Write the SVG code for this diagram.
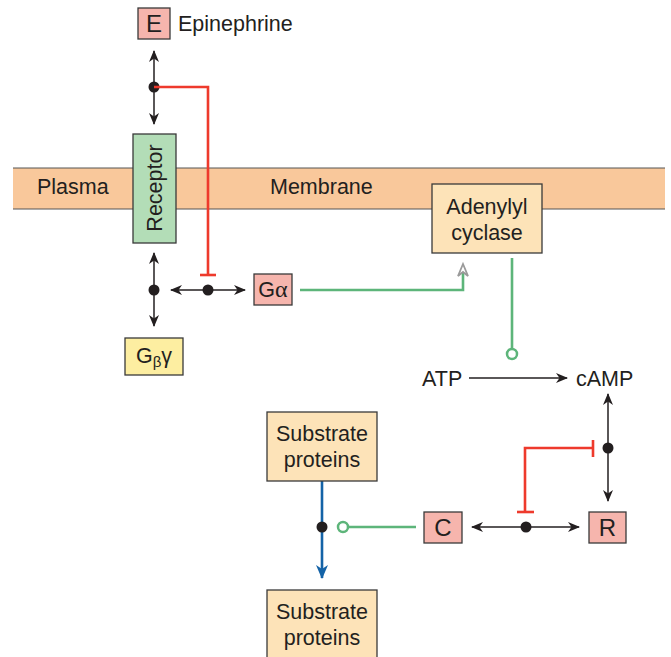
<svg xmlns="http://www.w3.org/2000/svg" width="671" height="657" viewBox="0 0 671 657">
<style>
text{font-family:"Liberation Sans",Arial,sans-serif;fill:#231f20}
.t{font-size:21.5px}
.box{stroke:#3a3a3a;stroke-width:1.3}
.pink{fill:#f6b5ad}
.beige{fill:#fde3b8}
.blk{stroke:#231f20;stroke-width:1.5;fill:none}
.red{stroke:#ee3a2c;stroke-width:2.6;fill:none}
.grn{stroke:#5db57a;stroke-width:2.6;fill:none}
.blue{stroke:#1463a7;stroke-width:2.6;fill:none}
.dot{fill:#231f20}
.big{font-size:24px}
</style>
<defs>
<marker id="ah" viewBox="0 0 12 10" refX="11" refY="5" markerWidth="12" markerHeight="10" markerUnits="userSpaceOnUse" orient="auto">
<path d="M0,0 L12,5 L0,10 L3.5,5 z" fill="#231f20"/>
</marker>
<marker id="ahb" viewBox="0 0 14 12" refX="13" refY="6" markerWidth="14" markerHeight="12" markerUnits="userSpaceOnUse" orient="auto">
<path d="M0,0 L14,6 L0,12 L4,6 z" fill="#1463a7"/>
</marker>
</defs>

<g id="membrane">
<rect x="13" y="168" width="652" height="41" fill="#f9c89b"/>
<line x1="13" y1="168" x2="665" y2="168" stroke="#555" stroke-width="1"/>
<line x1="13" y1="209" x2="665" y2="209" stroke="#555" stroke-width="1"/>
<text class="t" x="37" y="194">Plasma</text>
<text class="t" x="270" y="194">Membrane</text>
</g>

<g id="connectors">
<line class="blk" x1="154" y1="87" x2="154" y2="51" marker-end="url(#ah)"/>
<line class="blk" x1="154" y1="87" x2="154" y2="124" marker-end="url(#ah)"/>
<circle class="dot" cx="154" cy="87" r="5.5"/>
<polyline class="red" points="154,87 208,87 208,275"/>
<line class="red" x1="200" y1="275" x2="216" y2="275"/>
<line class="blk" x1="154" y1="290" x2="154" y2="253" marker-end="url(#ah)"/>
<line class="blk" x1="154" y1="290" x2="154" y2="326" marker-end="url(#ah)"/>
<circle class="dot" cx="154" cy="290" r="5.5"/>
<line class="blk" x1="208" y1="290" x2="171" y2="290" marker-end="url(#ah)"/>
<line class="blk" x1="208" y1="290" x2="245" y2="290" marker-end="url(#ah)"/>
<circle class="dot" cx="208" cy="290" r="5.5"/>
<polyline class="grn" points="300,290 463,290 463,268"/>
<path d="M458,276 L463,264 L468,276 L463,272 z" fill="#fff" stroke="#9a9a9a" stroke-width="1.8" stroke-linejoin="miter"/>
<line class="grn" x1="512" y1="258" x2="512" y2="349"/>
<circle cx="512" cy="354" r="5" fill="#fff" stroke="#5db57a" stroke-width="2.5"/>
<line class="blk" x1="469" y1="378" x2="567" y2="378" marker-end="url(#ah)"/>
<line class="blk" x1="608" y1="448" x2="608" y2="394" marker-end="url(#ah)"/>
<line class="blk" x1="608" y1="448" x2="608" y2="501" marker-end="url(#ah)"/>
<circle class="dot" cx="608" cy="448" r="5.5"/>
<polyline class="red" points="593,448 525,448 525,512"/>
<line class="red" x1="593" y1="440" x2="593" y2="457"/>
<line class="red" x1="517" y1="512" x2="534" y2="512"/>
<line class="blk" x1="526" y1="527" x2="472" y2="527" marker-end="url(#ah)"/>
<line class="blk" x1="526" y1="527" x2="579" y2="527" marker-end="url(#ah)"/>
<circle class="dot" cx="526" cy="527" r="5.5"/>
<line class="grn" x1="349" y1="527" x2="416" y2="527"/>
<circle cx="343" cy="527" r="5" fill="#fff" stroke="#5db57a" stroke-width="2.5"/>
<line class="blue" x1="322" y1="481" x2="322" y2="578" marker-end="url(#ahb)"/>
<circle class="dot" cx="322" cy="527" r="5.5"/>
</g>

<g id="E">
<rect class="box pink" x="138" y="8" width="32" height="31"/>
<text class="t big" x="154" y="32" text-anchor="middle">E</text>
<text class="t" x="178" y="31">Epinephrine</text>
</g>

<g id="receptor">
<rect class="box" x="133" y="134" width="43" height="109" fill="#b3ddb7"/>
<text class="t" transform="translate(162,188) rotate(-90)" text-anchor="middle">Receptor</text>
</g>

<g id="galpha">
<rect class="box pink" x="254" y="274" width="38" height="31"/>
<text class="t" x="273" y="297" text-anchor="middle" font-size="22">G<tspan font-family="'Liberation Serif',serif" font-size="24">α</tspan></text>
</g>

<g id="gbetagamma">
<rect class="box" x="125" y="338" width="58" height="37" fill="#fdeea1"/>
<text class="t" x="154" y="363" text-anchor="middle" font-size="22">G<tspan font-size="15" dy="4">β</tspan><tspan dy="-4">γ</tspan></text>
</g>

<g id="adenylyl">
<rect class="box beige" x="432" y="184" width="110" height="69"/>
<text class="t" x="487" y="214" text-anchor="middle">Adenylyl</text>
<text class="t" x="487" y="240" text-anchor="middle">cyclase</text>
</g>

<g id="atp">
<text class="t" x="422" y="386">ATP</text>
</g>

<g id="camp">
<text class="t" x="576" y="386">cAMP</text>
</g>

<g id="substrate1">
<rect class="box beige" x="267" y="412" width="110" height="69"/>
<text class="t" x="322" y="441" text-anchor="middle">Substrate</text>
<text class="t" x="322" y="467" text-anchor="middle">proteins</text>
</g>

<g id="substrate2">
<rect class="box beige" x="267" y="590" width="110" height="72"/>
<text class="t" x="322" y="619" text-anchor="middle">Substrate</text>
<text class="t" x="322" y="645" text-anchor="middle">proteins</text>
</g>

<g id="C">
<rect class="box pink" x="424" y="512" width="38" height="31"/>
<text class="t big" x="443" y="536" text-anchor="middle">C</text>
</g>

<g id="R">
<rect class="box pink" x="589" y="512" width="37" height="31"/>
<text class="t big" x="607.5" y="536" text-anchor="middle">R</text>
</g>
</svg>
